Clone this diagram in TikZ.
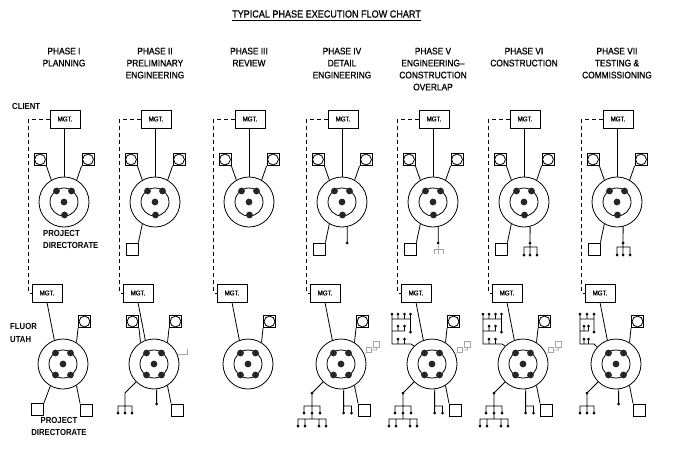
\documentclass[tikz,border=0pt]{standalone}
\usepackage{fontspec}
\setmainfont{Liberation Sans}
\newfontfamily\narrowsf{Liberation Sans}[FakeStretch=0.88]
\newfontfamily\medsf{Liberation Sans}[FakeStretch=0.88,FakeBold=0.7]
\usetikzlibrary{calc,positioning}

\begin{document}
\begin{tikzpicture}[x=1pt,y=-1pt,
  link/.style={line width=0.8pt},
  liaison/.style={line width=0.8pt,dash pattern=on 4pt off 3pt},
  faint/.style={draw=black!35,line width=0.6pt},
  mgt/.style={draw,line width=0.8pt,minimum width=30pt,minimum height=18pt,
    inner sep=0pt,font=\medsf\fontsize{7}{8}\selectfont},
  ring/.style={draw,line width=0.8pt,circle,minimum size=50pt,inner sep=0pt},
  inring/.style={draw,line width=0.8pt,circle,minimum size=28pt,inner sep=0pt},
  unit/.style={draw,line width=0.8pt,minimum size=12pt,inner sep=0pt},
  staff/.style={unit,path picture={\draw[line width=0.8pt]
    (path picture bounding box.center) circle (5.4pt);}},
  tiny/.style={faint,minimum size=5.5pt,inner sep=0pt},
  head/.style={font=\medsf\fontsize{9.5}{12}\selectfont,align=center,
    anchor=north,inner sep=0pt},
  lab/.style={font=\narrowsf\bfseries\fontsize{8.8}{12}\selectfont,inner sep=0pt}
]
\useasboundingbox (0,0) rectangle (673,453);

\node[font=\medsf\fontsize{10.3}{12}\selectfont,inner sep=0pt] (title)
  at (326.5,14) {TYPICAL PHASE EXECUTION FLOW CHART};
\draw[link] ([yshift=-2.5pt]title.south west) -- ([yshift=-2.5pt]title.south east);

\foreach \x/\txt [count=\c] in {64/{PHASE I\\PLANNING},
    155/{PHASE II\\PRELIMINARY\\ENGINEERING},249/{PHASE III\\REVIEW},
    342/{PHASE IV\\DETAIL\\ENGINEERING},
    433/{PHASE V\\ENGINEERING–\\CONSTRUCTION\\OVERLAP},
    524/{PHASE VI\\CONSTRUCTION},617/{PHASE VII\\TESTING \&\\COMMISSIONING}}
  \node[head] (ph\c) at (\x,47.5) {\txt};

\node[lab,anchor=west] (client) at (12,106) {CLIENT};
\node[lab,anchor=west] (fluor) at (10,326.5) {FLUOR};
\node[lab,anchor=west] (utah) at (10,340) {UTAH};
\node[lab,align=left,anchor=north west] (pdtop) at (43,230) {PROJECT\\DIRECTORATE};
\node[lab,align=center,anchor=north] (pdbot) at (59,417.5) {PROJECT\\DIRECTORATE};

% one column per phase
\foreach \x [count=\c] in {64,155,249,342,433,524,617}{
  \node[mgt] (tm\c) at (\x+1,119) {MGT.};
  \node[ring] (tc\c) at (\x,202) {};
  \node[inring] (ti\c) at (tc\c) {};
  \node[staff] (tsl\c) at (\x-24,159.5) {};
  \node[staff] (tsr\c) at (\x+24,159.5) {};
  \draw[link] (tm\c.south -| tc\c.north) -- (tc\c.north);
  \draw[link] (tsl\c.south east) -- (tc\c.120);
  \draw[link] (tsr\c.south west) -- (tc\c.60);
  \foreach \dx/\dy in {-7.5/-11,7.5/-11,0/0,0.5/13}
    \fill[black!85] ($(tc\c)+(\dx,\dy)$) circle (3.4pt);
  \node[mgt] (bm\c) at (\x-17,293) {MGT.};
  \node[ring] (bc\c) at (\x-1,364) {};
  \node[inring] (bi\c) at (bc\c) {};
  \node[staff] (bs\c) at (\x+20.5,321.5) {};
  \draw[link] (bm\c.south) -- (bc\c.110);
  \draw[link] (bs\c.south west) -- (bc\c.58);
  \foreach \dx/\dy in {-7.5/-11,7.5/-11,0/0,-7.5/11,7.5/11}
    \fill[black!85] ($(bc\c)+(\dx,\dy)$) circle (3.4pt);
  \draw[liaison] (tm\c.west) -| ([xshift=-3pt]bm\c.west) -- (bm\c.west);
}

% client side extras
\foreach \c in {2,4,5,6,7}{
  \node[unit] (tq\c) at ($(tc\c)+(-23,47)$) {};
  \draw[link] (tc\c.240) -- (tq\c.north east);
}
\foreach \c in {4,5}{
  \draw[link] (tc\c.-78) -- ($(tc\c)+(5.2,41)$);
  \fill ($(tc\c)+(5.2,41)$) circle (1.5pt);
}
\begin{scope}[shift={(tc5)}]
  \draw[faint] (5.2,43) -- (5.2,52) (1,52) -- (1,47) -- (10,47) -- (10,52);
\end{scope}
\foreach \c in {6,7}{
  \begin{scope}[shift={(tc\c)}]
    \draw[link] (tc\c.-76) -- (6,45) (0,53) -- (0,45) -- (13,45) -- (13,53)
      (6,45) -- (6,53);
    \foreach \dx/\dy in {6/41,0/53,6/53,13/53}
      \fill (\dx,\dy) circle (1.5pt);
  \end{scope}
}

% contractor side extras
\node[unit] (bl1) at ($(bc1)+(-25.5,45.5)$) {};
\draw[link] (bc1.240) -- (bl1.north east);
\foreach \c in {1,2,4,5,6,7}{
  \node[unit] (br\c) at ($(bc\c)+(23.5,46)$) {};
  \draw[link] (bc\c.-58) -- (br\c.north west);
}
\node[staff] (bt2) at ($(bc2)+(-21.5,-42.5)$) {};
\draw[link] (bt2.south east) -- (bc2.122);
\draw[faint] (bc2.22) -- ++(10,0) -- ++(0,-5);

\foreach \c in {2,7}{
  \begin{scope}[shift={(bc\c)}]
    \draw[link] (bc\c.225) -- (-29,29) -- (-29,49) (-36,49) -- (-36,42) -- (-22,42)
      -- (-22,49) (bc\c.-84) -- (2.6,40);
    \foreach \dx/\dy in {-36/49,-29/49,-22/49,2.6/40}
      \fill (\dx,\dy) circle (1.5pt);
  \end{scope}
}
\fill ($(bc7)+(-29,29)$) circle (1.5pt);

\foreach \c in {4,5,6}{
  \begin{scope}[shift={(bc\c)}]
    \draw[link] (bc\c.225) -- (-29,29) -- (-29,55)
      (-37,49) -- (-37,42) -- (-21,42) -- (-21,49)
      (-43,62) -- (-43,55) -- (-15,55) -- (-15,62)
      (-36,55) -- (-36,62) (-22,55) -- (-22,62);
    \foreach \dx/\dy in {-29/29,-37/49,-29/49,-21/49,-43/62,-36/62,-22/62,-15/62}
      \fill (\dx,\dy) circle (1.5pt);
    \draw[link] (bc\c.-84) -- (2.6,42) -- (10.5,42) -- (10.5,49) (2.6,42) -- (2.6,49);
    \fill (2.6,49) circle (1.5pt) (10.5,49) circle (1.5pt);
  \end{scope}
  \node[tiny] (ta\c) at ($(bc\c)+(28,-14)$) {};
  \node[tiny] (tb\c) at ($(bc\c)+(35.5,-19.5)$) {};
  \draw[faint] (bc\c.22) -- (ta\c.south west) (ta\c.east) -| (tb\c.south);
}

\foreach \c in {5,6}{
  \begin{scope}[shift={(bc\c)}]
    \draw[link] (bc\c.135) -- (-21,-20) -- (-40,-20) -- (-40,-50)
      (-40,-45) -- (-21.5,-45) -- (-21.5,-32)
      (-40,-33) -- (-27.5,-33)
      (-34,-45) -- (-34,-50) (-27.5,-45) -- (-27.5,-50) (-21.5,-45) -- (-21.5,-50)
      (-34,-33) -- (-34,-38) (-27.5,-33) -- (-27.5,-38)
      (-34,-20) -- (-34,-25) (-27.5,-20) -- (-27.5,-25);
    \foreach \dx/\dy in {-40/-50,-34/-50,-27.5/-50,-21.5/-50,-34/-38,-27.5/-38,
        -21.5/-32,-34/-25,-27.5/-25}
      \fill (\dx,\dy) circle (1.5pt);
  \end{scope}
}
\begin{scope}[shift={(bc7)}]
  \draw[link] (bc7.138) -- (-22,-20) -- (-36,-20) -- (-36,-50)
    (-36,-45) -- (-22,-45) -- (-22,-50) (-29,-45) -- (-29,-50)
    (-22,-45) -- (-22,-32)
    (-36,-33) -- (-27.5,-33)
    (-32,-33) -- (-32,-38) (-27.5,-33) -- (-27.5,-38)
    (-32,-20) -- (-32,-25) (-27.5,-20) -- (-27.5,-25);
  \foreach \dx/\dy in {-36/-50,-29/-50,-22/-50,-32/-38,-27.5/-38,-22/-32,
      -32/-25,-27.5/-25}
    \fill (\dx,\dy) circle (1.5pt);
\end{scope}
\end{tikzpicture}
\end{document}
